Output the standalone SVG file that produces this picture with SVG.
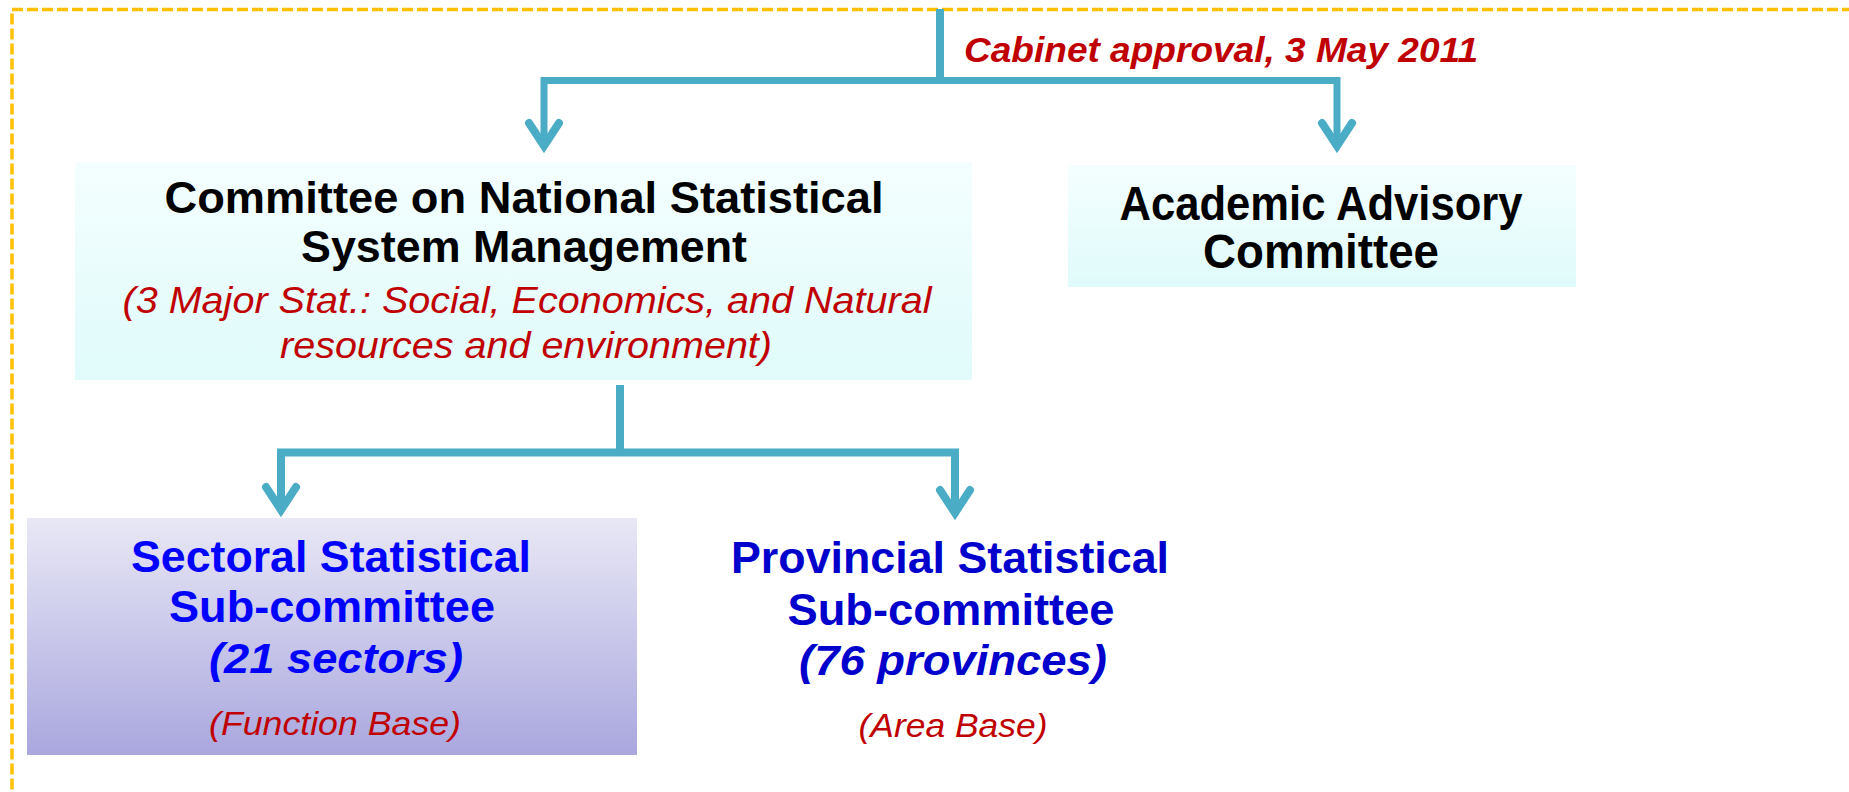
<svg xmlns="http://www.w3.org/2000/svg" width="1849" height="792" viewBox="0 0 1849 792">
<defs>
<linearGradient id="gCyan" x1="0" y1="0" x2="0" y2="1">
<stop offset="0" stop-color="#F4FEFE"/>
<stop offset="1" stop-color="#E0FBFB"/>
</linearGradient>
<linearGradient id="gLav" x1="0" y1="0" x2="0" y2="1">
<stop offset="0" stop-color="#E9E8F6"/>
<stop offset="1" stop-color="#A9A7DE"/>
</linearGradient>
<marker id="arrow" markerUnits="userSpaceOnUse" orient="auto" refX="0" refY="0" markerWidth="60" markerHeight="60" viewBox="-30 -30 60 60" overflow="visible">
<path d="M-23,-15 L0,0 L-23,15" fill="none" stroke="#4BACC6" stroke-width="8" stroke-linecap="round" stroke-linejoin="miter"/>
</marker>
</defs>
<style>
text{font-family:"Liberation Sans",Arial,sans-serif;text-anchor:middle}
.blk{font-weight:bold;fill:#000000}
.red{font-style:italic;fill:#C00000}
.cab{font-weight:bold;font-style:italic;fill:#C00000;text-anchor:start}
.bl1{font-weight:bold;fill:#0000FF}
.bl2{font-weight:bold;fill:#0000CC}
.conn{fill:none;stroke:#4BACC6;stroke-linejoin:miter;stroke-linecap:butt}
</style>
<rect x="12" y="9.5" width="2000" height="1000" fill="none" stroke="#FFC000" stroke-width="3.5" stroke-dasharray="11 4"/>

<g id="committee">
<rect x="75" y="162" width="897" height="218" fill="url(#gCyan)"/>
<text class="blk" x="524" y="213" font-size="44" textLength="719" lengthAdjust="spacingAndGlyphs">Committee on National Statistical</text>
<text class="blk" x="524" y="262" font-size="44" textLength="446" lengthAdjust="spacingAndGlyphs">System Management</text>
<text class="red" x="527" y="313" font-size="36" textLength="809" lengthAdjust="spacingAndGlyphs">(3 Major Stat.: Social, Economics, and Natural</text>
<text class="red" x="526" y="358" font-size="36" textLength="492" lengthAdjust="spacingAndGlyphs">resources and environment)</text>
</g>

<g id="academic">
<rect x="1068" y="165" width="508" height="122" fill="url(#gCyan)"/>
<text class="blk" x="1321" y="220" font-size="48" textLength="403" lengthAdjust="spacingAndGlyphs">Academic Advisory</text>
<text class="blk" x="1321" y="268" font-size="48" textLength="236" lengthAdjust="spacingAndGlyphs">Committee</text>
</g>

<g id="sectoral">
<rect x="27" y="518" width="610" height="237" fill="url(#gLav)"/>
<text class="bl1" x="331" y="572" font-size="44" textLength="400" lengthAdjust="spacingAndGlyphs">Sectoral Statistical</text>
<text class="bl1" x="332" y="622" font-size="44" textLength="326" lengthAdjust="spacingAndGlyphs">Sub-committee</text>
<text class="bl1" x="336" y="673" font-size="42" font-style="italic" textLength="254" lengthAdjust="spacingAndGlyphs">(21 sectors)</text>
<text class="red" x="335" y="735" font-size="33" textLength="252" lengthAdjust="spacingAndGlyphs">(Function Base)</text>
</g>

<g id="provincial">
<text class="bl2" x="950" y="573" font-size="44" textLength="438" lengthAdjust="spacingAndGlyphs">Provincial Statistical</text>
<text class="bl2" x="951" y="625" font-size="44" textLength="327" lengthAdjust="spacingAndGlyphs">Sub-committee</text>
<text class="bl2" x="953" y="675" font-size="42" font-style="italic" textLength="308" lengthAdjust="spacingAndGlyphs">(76 provinces)</text>
<text class="red" x="953" y="737" font-size="33" textLength="189" lengthAdjust="spacingAndGlyphs">(Area Base)</text>
</g>

<g id="connectors">
<path class="conn" d="M940,9 V80.5" stroke-width="8"/>
<path class="conn" d="M940,80.5 H544 V146" stroke-width="7" marker-end="url(#arrow)"/>
<path class="conn" d="M940,80.5 H1337 V146" stroke-width="7" marker-end="url(#arrow)"/>
<path class="conn" d="M620,385 V452.5" stroke-width="8"/>
<path class="conn" d="M620,452.5 H281 V510" stroke-width="8" marker-end="url(#arrow)"/>
<path class="conn" d="M620,452.5 H955 V513" stroke-width="8" marker-end="url(#arrow)"/>
<text class="cab" x="964" y="62" font-size="35" textLength="514" lengthAdjust="spacingAndGlyphs">Cabinet approval, 3 May 2011</text>
</g>
</svg>
